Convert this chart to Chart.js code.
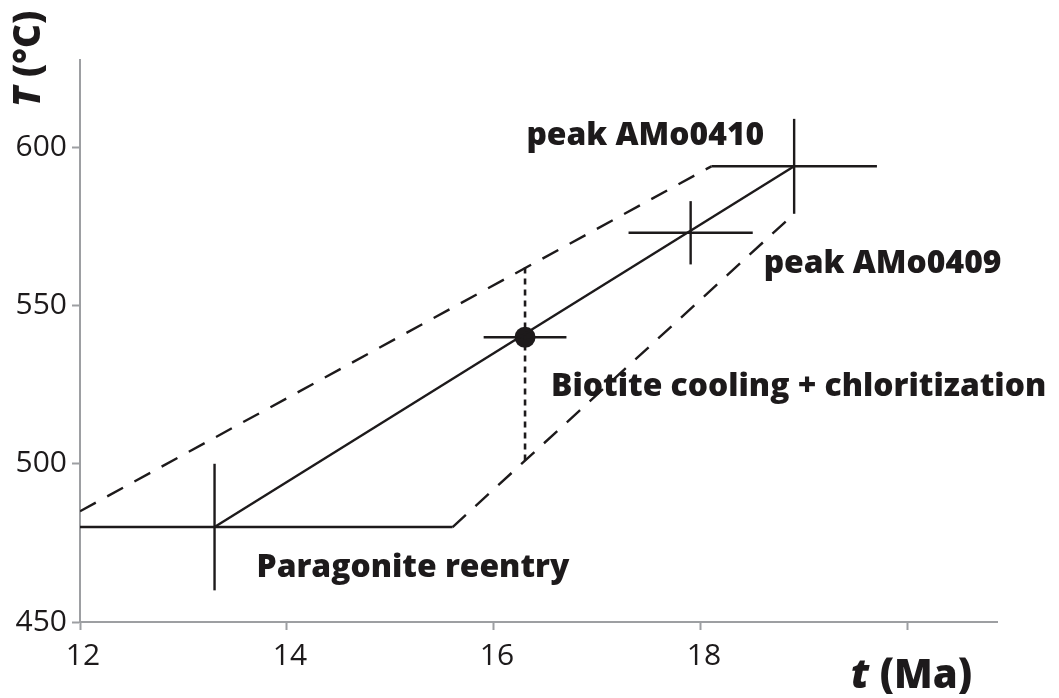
<!DOCTYPE html>
<html>
<head>
<meta charset="utf-8">
<title>T–t path</title>
<script src="https://cdn.jsdelivr.net/npm/chart.js@4.4.1/dist/chart.umd.min.js"></script>
<style>
  html, body { margin: 0; padding: 0; background: #ffffff; }
  canvas { display: block; }
</style>
</head>
<body>
<canvas id="tt" width="1059" height="698"></canvas>
<script>
// Dated constraints on the cooling path
const sampleNames = ['Paragonite reentry', 'Biotite cooling + chloritization', 'peak AMo0409', 'peak AMo0410'];
const sampleAges  = [13.3, 16.3, 17.9, 18.9];   // t (Ma)
const sampleTemps = [480, 540, 573, 594];       // T (°C)
const ageErrors   = [2.3, 0.4, 0.6, 0.8];       // ± Ma
const tempErrors  = [20, 0, 10, 15];            // ± °C

// Best-fit path through the constraints
const pathAges  = [13.3, 18.9];
const pathTemps = [480, 594];

// Dashed envelope of the path
const upperAges  = [12, 18.1];
const upperTemps = [485, 594];
const lowerAges  = [15.6, 18.9];
const lowerTemps = [480, 579];

// Dotted bracket across the envelope at the biotite age
const bracketAges  = [16.3, 16.3];
const bracketTemps = [501, 562];

// Axis ticks
const xTickValues = [12, 14, 16, 18, 20];
const xTickLabels = ['12', '14', '16', '18', ''];
const yTickValues = [450, 500, 550, 600];
const yTickLabels = ['450', '500', '550', '600'];

// ---- styling ----
const INK = '#1d1a1b';
const AXIS = '#9d9fa2';
const FONT = '"Open Sans", "DejaVu Sans", sans-serif';
const TICK_SIZE = 30;
const NOTE_SIZE = 31.8;
const NOTE_WEIGHT = 800;
const TITLE_SIZE = 40;

// label placement relative to each sample point (pixels)
const noteOffsets = [
  { dx: 42, dy: 50, align: 'left' },
  { dx: 26, dy: 59, align: 'left' },
  { dx: 73, dy: 40, align: 'left' },
  { dx: -30, dy: -21, align: 'right' }
];

const pts = (xs, ys) => xs.map((v, i) => ({ x: v, y: ys[i] }));

const lineSet = (data, extra) => Object.assign({
  data,
  showLine: true,
  borderColor: INK,
  borderWidth: 2.4,
  pointRadius: 0,
  pointHoverRadius: 0,
  fill: false,
  tension: 0
}, extra || {});

const datasets = [
  lineSet(pts(pathAges, pathTemps)),
  lineSet(pts(upperAges, upperTemps), { borderDash: [18, 13] }),
  lineSet(pts(lowerAges, lowerTemps), { borderDash: [18, 13] }),
  lineSet(pts(bracketAges, bracketTemps), { borderDash: [6, 5], borderWidth: 2.6 })
];

// error bars for each sample
sampleAges.forEach((t, i) => {
  const T = sampleTemps[i];
  if (ageErrors[i] > 0) {
    datasets.push(lineSet([{ x: t - ageErrors[i], y: T }, { x: t + ageErrors[i], y: T }]));
  }
  if (tempErrors[i] > 0) {
    datasets.push(lineSet([{ x: t, y: T - tempErrors[i] }, { x: t, y: T + tempErrors[i] }]));
  }
});

// biotite age marker
datasets.push({
  data: [{ x: sampleAges[1], y: sampleTemps[1] }],
  showLine: false,
  pointRadius: 10.5,
  pointHoverRadius: 10.5,
  pointBackgroundColor: INK,
  pointBorderColor: INK,
  pointBorderWidth: 0
});

// text labels and axis titles
const notesPlugin = {
  id: 'notes',
  afterDatasetsDraw(chart) {
    const { ctx, scales: { x, y }, chartArea } = chart;
    ctx.save();
    ctx.fillStyle = INK;
    ctx.textBaseline = 'alphabetic';

    ctx.font = `${NOTE_WEIGHT} ${NOTE_SIZE}px ${FONT}`;
    sampleNames.forEach((name, i) => {
      const px = x.getPixelForValue(sampleAges[i]);
      const py = y.getPixelForValue(sampleTemps[i]);
      const o = noteOffsets[i];
      ctx.textAlign = o.align;
      ctx.fillText(name, px + o.dx, py + o.dy);
    });

    // x title: italic "t" followed by " (Ma)"
    ctx.textAlign = 'left';
    const italic = `italic ${NOTE_WEIGHT} ${TITLE_SIZE}px ${FONT}`;
    const bold = `${NOTE_WEIGHT} ${TITLE_SIZE}px ${FONT}`;
    ctx.font = bold;
    const restX = ' (Ma)';
    const wRestX = ctx.measureText(restX).width;
    ctx.font = italic;
    const wT = ctx.measureText('t').width;
    const xStart = chartArea.right - 25 - wRestX - wT;
    const xBase = chartArea.bottom + 66;
    ctx.fillText('t', xStart, xBase);
    ctx.font = bold;
    ctx.fillText(restX, xStart + wT, xBase);

    // y title, rotated: italic "T" followed by " (°C)"
    ctx.save();
    ctx.font = `italic ${NOTE_WEIGHT} 37px ${FONT}`;
    ctx.translate(chartArea.left - 40, chartArea.top + 47);
    ctx.rotate(-Math.PI / 2);
    ctx.fillText('T', 0, 0);
    const wY = ctx.measureText('T').width;
    ctx.font = `${NOTE_WEIGHT} 37px ${FONT}`;
    ctx.fillText(' (°C)', wY, 0);
    ctx.restore();

    ctx.restore();
  }
};

new Chart(document.getElementById('tt'), {
  type: 'scatter',
  data: { datasets },
  options: {
    responsive: false,
    animation: false,
    devicePixelRatio: 1,
    events: [],
    layout: { padding: { top: 60, right: 62, left: 0, bottom: 0 } },
    plugins: {
      legend: { display: false },
      tooltip: { enabled: false },
      title: { display: false }
    },
    scales: {
      x: {
        type: 'linear',
        min: 12,
        max: 20.86,
        afterFit(scale) { scale.height = 76; },
        border: { color: AXIS, width: 2 },
        grid: { drawOnChartArea: false, drawTicks: true, tickLength: 8, tickWidth: 2, color: AXIS },
        ticks: {
          stepSize: 2,
          includeBounds: false,
          autoSkip: false,
          maxRotation: 0,
          padding: 8,
          labelOffset: 3,
          color: INK,
          font: { family: FONT, size: TICK_SIZE },
          callback: (v) => {
            const k = xTickValues.indexOf(v);
            return k >= 0 ? xTickLabels[k] : undefined;
          }
        }
      },
      y: {
        type: 'linear',
        min: 450,
        max: 627.6,
        afterFit(scale) { scale.width = 80; },
        border: { color: AXIS, width: 2 },
        grid: { drawOnChartArea: false, drawTicks: true, tickLength: 8, tickWidth: 2, color: AXIS },
        ticks: {
          stepSize: 50,
          includeBounds: false,
          autoSkip: false,
          padding: 5,
          color: INK,
          font: { family: FONT, size: TICK_SIZE },
          callback: (v) => {
            const k = yTickValues.indexOf(v);
            return k >= 0 ? yTickLabels[k] : undefined;
          }
        }
      }
    }
  },
  plugins: [notesPlugin]
});
</script>
</body>
</html>
